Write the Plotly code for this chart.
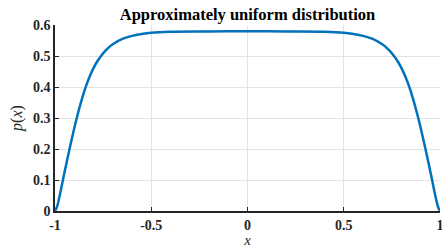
import plotly.graph_objects as go

# (left half; right half mirrored)
x_left = [-1.00, -0.99, -0.98, -0.97, -0.96, -0.94, -0.92, -0.90, -0.88, -0.86,
          -0.84, -0.82, -0.80, -0.78, -0.76, -0.74, -0.72, -0.70, -0.65, -0.60,
          -0.55, -0.50, -0.40, -0.20, 0.0]
p_left = [0.0, 0.013, 0.037, 0.066, 0.097, 0.156, 0.213, 0.267, 0.317, 0.362,
          0.401, 0.434, 0.461, 0.483, 0.501, 0.516, 0.528, 0.538, 0.555, 0.565,
          0.571, 0.575, 0.578, 0.579, 0.58]

x_vals = x_left + [-v for v in reversed(x_left[:-1])]
p_vals = p_left + list(reversed(p_left[:-1]))

x_ticks = [-1, -0.5, 0, 0.5, 1]
x_ticklabels = ["-1", "-0.5", "0", "0.5", "1"]
y_ticks = [0, 0.1, 0.2, 0.3, 0.4, 0.5, 0.6]
y_ticklabels = ["0", "0.1", "0.2", "0.3", "0.4", "0.5", "0.6"]

serif = "Liberation Serif, Times New Roman, serif"
dark = "#262626"

fig = go.Figure()
fig.add_trace(go.Scatter(x=x_vals, y=p_vals, mode="lines",
                         line=dict(color="#0072BD", width=2.5, shape="spline", smoothing=1.0),
                         hoverinfo="skip", showlegend=False))

fig.update_layout(
    width=442, height=248,
    margin=dict(l=55, r=2, t=25, b=37, autoexpand=False),
    paper_bgcolor="white", plot_bgcolor="white",
    title=dict(text="<b>Approximately uniform distribution</b>",
               font=dict(family=serif, size=16.5, color="black"),
               x=(55 + 440) / 2 / 442, xanchor="center",
               y=1 - 14 / 248, yanchor="middle", yref="container"),
    xaxis=dict(range=[-1, 1], tickvals=x_ticks,
               ticktext=["<b>%s</b>" % t for t in x_ticklabels],
               ticklabeloverflow="allow",
               showgrid=True, gridcolor="#e3e3e3", gridwidth=1,
               showline=True, linecolor=dark, linewidth=1.5,
               ticks="inside", ticklen=4, tickcolor=dark, tickwidth=1,
               tickfont=dict(family=serif, size=14, color=dark),
               zeroline=False, automargin=False,
               title=dict(text="<i>x</i>", font=dict(family=serif, size=15, color=dark),
                          standoff=3)),
    yaxis=dict(range=[0, 0.6], tickvals=y_ticks,
               ticktext=["<b>%s</b>" % t for t in y_ticklabels],
               ticklabeloverflow="allow",
               showgrid=True, gridcolor="#e3e3e3", gridwidth=1,
               showline=True, linecolor=dark, linewidth=1.5,
               ticks="inside", ticklen=4, tickcolor=dark, tickwidth=1,
               tickfont=dict(family=serif, size=14, color=dark),
               zeroline=False, automargin=False,
               title=dict(text="<i>p</i>(<i>x</i>)", font=dict(family=serif, size=16, color=dark),
                          standoff=6)),
)

fig.write_html("out.html",
               config={"displayModeBar": False},
               post_script="document.body.style.margin='0';document.body.style.overflow='hidden';")
